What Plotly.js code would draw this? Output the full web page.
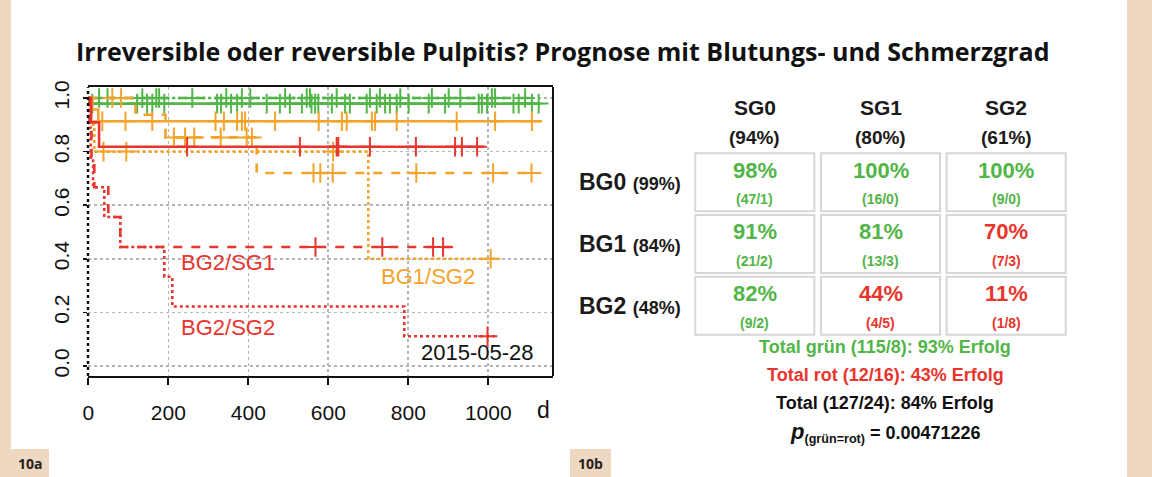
<!DOCTYPE html>
<html>
<head>
<meta charset="utf-8">
<script src="https://cdn.plot.ly/plotly-3.0.1.min.js"></script>
<style>html,body{margin:0;padding:0;background:#fff;}#chart{width:1152px;height:477px;}</style>
</head>
<body>
<div id="chart"></div>
<script>
// ---------- Kaplan-Meier data (days, survival) ----------
const bg0sg0_t = [0, 6];            const bg0sg0_s = [1, 0.979]; const bg0sg0_end = 1130;
const bg0sg0_cens = [10, 122, 147, 160, 190, 322, 332, 357, 372, 446, 479, 504, 534, 558, 567, 575, 609, 642, 654, 696, 721, 742, 754, 771, 801, 851, 892, 976, 984, 997, 1063, 1076, 1109, 1126];
const bg0sg1_t = [0];               const bg0sg1_s = [1];        const bg0sg1_end = 1115;
const bg0sg1_cens = [27, 135, 170, 260, 345, 405, 492, 554, 621, 704, 780, 859, 930, 1009, 1092];
const bg0sg2_t = [0];               const bg0sg2_s = [1];        const bg0sg2_end = 1050;
const bg0sg2_cens = [48, 177, 384, 546, 729, 901, 1017];

const bg1sg0_t = [0, 10, 25];       const bg1sg0_s = [1, 0.957, 0.913]; const bg1sg0_end = 1134;
const bg1sg0_cens = [35, 93, 160, 318, 339, 372, 384, 392, 467, 576, 634, 646, 709, 717, 771, 921, 1017, 1109];
const bg1sg1_t = [0, 118, 193, 421]; const bg1sg1_s = [1, 0.9375, 0.853, 0.72]; const bg1sg1_end = 1110;
const bg1sg1_cens = [60, 82, 214, 242, 265, 331, 396, 409, 563, 580, 611, 820, 1012, 1108];
const bg1sg2_t = [0, 5, 15, 700];   const bg1sg2_s = [1, 0.9, 0.8, 0.4]; const bg1sg2_end = 1020;
const bg1sg2_cens = [38, 95, 612, 1006];

const bg2sg0_t = [0, 7, 27];        const bg2sg0_s = [1, 0.909, 0.818]; const bg2sg0_end = 990;
const bg2sg0_cens = [247, 529, 621, 625, 704, 819, 917, 934, 972];
const bg2sg1_t = [0, 3, 8, 15, 50, 80]; const bg2sg1_s = [1, 0.889, 0.778, 0.667, 0.556, 0.444]; const bg2sg1_end = 914;
const bg2sg1_cens = [568, 735, 862, 887];
const bg2sg2_t = [0, 2, 6, 12, 40, 80, 190, 210, 790]; const bg2sg2_s = [1, 0.889, 0.778, 0.667, 0.556, 0.444, 0.333, 0.222, 0.111]; const bg2sg2_end = 1022;
const bg2sg2_cens = [998];

const xTicks = [0, 200, 400, 600, 800, 1000];
const yTicks = [0, 0.2, 0.4, 0.6, 0.8, 1.0];
const yTickText = ['0.0', '0.2', '0.4', '0.6', '0.8', '1.0'];

// ---------- table data ----------
const sgLabels = ['SG0', 'SG1', 'SG2'];
const sgTotals = ['(94%)', '(80%)', '(61%)'];
const bgLabels = ['BG0', 'BG1', 'BG2'];
const bgTotals = ['(99%)', '(84%)', '(48%)'];
const cellPct = [[98, 100, 100], [91, 81, 70], [82, 44, 11]];
const cellCounts = [['47/1', '16/0', '9/0'], ['21/2', '13/3', '7/3'], ['9/2', '4/5', '1/8']];
const cellGreen = [[true, true, true], [true, true, false], [true, false, false]];
const summaryLines = ['Total grün (115/8): 93% Erfolg', 'Total rot (12/16): 43% Erfolg', 'Total (127/24): 84% Erfolg'];
const pValue = '0.00471226';

const GREEN = '#52b548', ORANGE = '#f4a32b', RED = '#e8352d';
const BEIGE = '#efd8c2';
const W = 1152, H = 477;
const px = v => v / W, py = v => 1 - v / H;

function survAt(t, times, s) { let v = s[0]; for (let i = 0; i < times.length; i++) if (times[i] <= t) v = s[i]; return v; }

const traces = [];
function addCurve(times, s, end, cens, color, dash) {
  traces.push({x: times.concat([end]), y: s.concat([s[s.length - 1]]), type: 'scatter', mode: 'lines',
    line: {shape: 'hv', color: color, width: 2.6, dash: dash}, hoverinfo: 'skip', showlegend: false, xaxis: 'x', yaxis: 'y'});
  traces.push({x: cens, y: cens.map(t => survAt(t, times, s)), type: 'scatter', mode: 'markers',
    marker: {symbol: 'cross-thin', size: 14, color: color, line: {color: color, width: 2}}, hoverinfo: 'skip', showlegend: false, xaxis: 'x', yaxis: 'y'});
}
addCurve(bg0sg2_t, bg0sg2_s, bg0sg2_end, bg0sg2_cens, GREEN, 'dot');
addCurve(bg0sg1_t, bg0sg1_s, bg0sg1_end, bg0sg1_cens, GREEN, 'dash');
addCurve(bg0sg0_t, bg0sg0_s, bg0sg0_end, bg0sg0_cens, GREEN, 'solid');
addCurve(bg1sg2_t, bg1sg2_s, bg1sg2_end, bg1sg2_cens, ORANGE, 'dot');
addCurve(bg1sg1_t, bg1sg1_s, bg1sg1_end, bg1sg1_cens, ORANGE, 'dash');
addCurve(bg1sg0_t, bg1sg0_s, bg1sg0_end, bg1sg0_cens, ORANGE, 'solid');
addCurve(bg2sg2_t, bg2sg2_s, bg2sg2_end, bg2sg2_cens, RED, 'dot');
addCurve(bg2sg1_t, bg2sg1_s, bg2sg1_end, bg2sg1_cens, RED, 'dash');
addCurve(bg2sg0_t, bg2sg0_s, bg2sg0_end, bg2sg0_cens, RED, 'solid');

const shapes = [
  {type: 'rect', xref: 'paper', yref: 'paper', x0: 0, x1: px(11), y0: 0, y1: 1, fillcolor: BEIGE, line: {width: 0}, layer: 'below'},
  {type: 'rect', xref: 'paper', yref: 'paper', x0: px(1127), x1: 1, y0: 0, y1: 1, fillcolor: BEIGE, line: {width: 0}, layer: 'below'},
  {type: 'rect', xref: 'paper', yref: 'paper', x0: px(11), x1: px(49), y0: 0, y1: py(449), fillcolor: BEIGE, line: {width: 0}},
  {type: 'rect', xref: 'paper', yref: 'paper', x0: px(570), x1: px(611), y0: 0, y1: py(449), fillcolor: BEIGE, line: {width: 0}},
  {type: 'line', xref: 'x domain', yref: 'y domain', x0: 1, x1: 1, y0: 0, y1: 1, line: {color: '#111', width: 2}},
  {type: 'line', xref: 'x domain', yref: 'y domain', x0: 0, x1: 0, y0: 0, y1: 1, line: {color: '#111', width: 2.5, dash: 'dot'}}
];

function ann(o) { return Object.assign({showarrow: false, xanchor: 'center', yanchor: 'middle'}, o); }

const annotations = [
  ann({text: '<b>Irreversible oder reversible Pulpitis? Prognose mit Blutungs- und Schmerzgrad</b>', xref: 'paper', yref: 'paper', x: px(563), y: py(51),
   font: {family: 'Open Sans', size: 25, color: '#111'}}),
  ann({text: 'BG2/SG1', xref: 'x', yref: 'y', x: 348, y: 0.388, font: {family: 'Liberation Sans', size: 22, color: RED}}),
  ann({text: 'BG2/SG2', xref: 'x', yref: 'y', x: 348, y: 0.142, font: {family: 'Liberation Sans', size: 22, color: RED}}),
  ann({text: 'BG1/SG2', xref: 'x', yref: 'y', x: 848, y: 0.333, font: {family: 'Liberation Sans', size: 22, color: ORANGE}}),
  ann({text: '2015-05-28', xref: 'x', yref: 'y', x: 972, y: 0.05, font: {family: 'Liberation Sans', size: 22, color: '#111'}}),
  ann({text: 'd', xref: 'x', yref: 'paper', x: 1137, y: py(410), font: {family: 'Liberation Sans', size: 23, color: '#111'}}),
  ann({text: '<b>10a</b>', xref: 'paper', yref: 'paper', x: px(30), y: py(463), font: {family: 'Open Sans', size: 14, color: '#222'}}),
  ann({text: '<b>10b</b>', xref: 'paper', yref: 'paper', x: px(590), y: py(463), font: {family: 'Open Sans', size: 14, color: '#222'}})
];

// table
for (let j = 0; j < 3; j++) {
  annotations.push(ann({text: '<b>' + sgLabels[j] + '</b>', xref: 'x2', yref: 'paper', x: j, y: py(108), font: {family: 'Liberation Sans', size: 21, color: '#1a1a1a'}}));
  annotations.push(ann({text: '<b>' + sgTotals[j] + '</b>', xref: 'x2', yref: 'paper', x: j, y: py(137), font: {family: 'Liberation Sans', size: 19, color: '#1a1a1a'}}));
}
for (let i = 0; i < 3; i++) {
  annotations.push(ann({text: '<b>' + bgLabels[i] + '</b> <b><span style="font-size:18px">' + bgTotals[i] + '</span></b>', xref: 'paper', yref: 'y2', x: px(577), xanchor: 'left', y: i,
    font: {family: 'Liberation Sans', size: 23, color: '#1a1a1a'}}));
  for (let j = 0; j < 3; j++) {
    const c = cellGreen[i][j] ? GREEN : RED;
    shapes.push({type: 'rect', xref: 'x2', yref: 'y2', x0: j - 0.474, x1: j + 0.474, y0: i - 0.47, y1: i + 0.47, line: {color: '#d6d6d6', width: 2}, fillcolor: 'rgba(0,0,0,0)'});
    annotations.push(ann({text: '<b>' + cellPct[i][j] + '%</b>', xref: 'x2', yref: 'y2', x: j, y: i - 0.195, font: {family: 'Liberation Sans', size: 22, color: c}}));
    annotations.push(ann({text: '<b>(' + cellCounts[i][j] + ')</b>', xref: 'x2', yref: 'y2', x: j, y: i + 0.276, font: {family: 'Liberation Sans', size: 14, color: c}}));
  }
}
const sumColors = [GREEN, RED, '#111'];
const sumY = [347, 375, 403];
for (let k = 0; k < 3; k++) {
  annotations.push(ann({text: '<b>' + summaryLines[k] + '</b>', xref: 'paper', yref: 'paper', x: px(885), y: py(sumY[k]), font: {family: 'Liberation Sans', size: 18, color: sumColors[k]}}));
}
annotations.push(ann({text: '<b><i><span style="font-size:22px">p</span></i><sub>(grün=rot)</sub> = ' + pValue + '</b>', xref: 'paper', yref: 'paper', x: px(885), y: py(432),
  font: {family: 'Liberation Sans', size: 18, color: '#111'}}));

const layout = {
  width: W, height: H, margin: {l: 0, r: 0, t: 0, b: 0}, paper_bgcolor: '#ffffff', plot_bgcolor: '#ffffff', showlegend: false,
  xaxis: {domain: [px(88), px(553)], range: [-0.75, 1161.75], tickvals: xTicks, ticktext: xTicks.map(String), ticks: 'outside', ticklen: 7, tickwidth: 2, tickcolor: '#111',
    showline: true, mirror: true, linecolor: '#111', linewidth: 2, showgrid: true, gridcolor: '#b5b5b5', griddash: 'dot', gridwidth: 1.6, zeroline: false,
    ticklabelstandoff: 10,
    tickfont: {family: 'Liberation Sans', size: 21, color: '#111'}, fixedrange: true},
  yaxis: {domain: [1 - 376 / H, 1 - 87 / H], range: [-0.0373, 1.041], tickvals: yTicks, ticktext: yTickText, tickangle: -90, ticks: 'outside', ticklen: 4, tickwidth: 1.5, tickcolor: '#111',
    showline: false, showgrid: true, gridcolor: '#b5b5b5', griddash: 'dot', gridwidth: 1.6, zeroline: false,
    ticklabelstandoff: 6,
    tickfont: {family: 'Liberation Sans', size: 21, color: '#111'}, fixedrange: true},
  xaxis2: {domain: [px(692), px(1069)], range: [-0.5, 2.5], anchor: 'y2', showgrid: false, zeroline: false, showticklabels: false, showline: false, ticks: '', fixedrange: true},
  yaxis2: {domain: [1 - 336.5 / H, 1 - 151.5 / H], range: [2.5, -0.5], anchor: 'x2', showgrid: false, zeroline: false, showticklabels: false, showline: false, ticks: '', fixedrange: true},
  shapes: shapes, annotations: annotations
};
Plotly.newPlot('chart', traces, layout, {displayModeBar: false, staticPlot: true});
</script>
</body>
</html>
